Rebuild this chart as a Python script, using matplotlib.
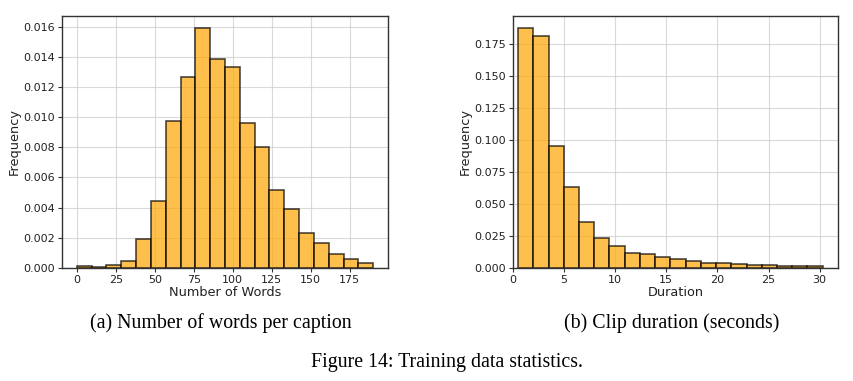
import matplotlib.pyplot as plt
import numpy as np

# histogram densities
word_edges = np.linspace(0, 190, 21)
word_freq = [0.00011, 0.00007, 0.00022, 0.00049, 0.00189, 0.00444, 0.00976,
             0.01269, 0.01591, 0.01387, 0.01331, 0.00960, 0.00800, 0.00516,
             0.00393, 0.00233, 0.00164, 0.00091, 0.00062, 0.00036]

dur_edges = np.linspace(0.5, 30.3, 21)
dur_freq = [0.1876, 0.1813, 0.0954, 0.0637, 0.0359, 0.0236, 0.0173, 0.0115,
            0.0113, 0.0089, 0.0073, 0.0055, 0.0042, 0.0039, 0.0031, 0.0026,
            0.0024, 0.0018, 0.0016, 0.0013]

fig = plt.figure(figsize=(8.54, 3.81), dpi=100)
ax1 = fig.add_axes([0.0726, 0.2966, 0.3817, 0.6614])
ax2 = fig.add_axes([0.6007, 0.2966, 0.3806, 0.6614])


def draw(ax, edges, freq, xlabel):
    ax.set_axisbelow(True)
    ax.grid(True, color='#d0d0d0', linewidth=0.8, alpha=0.8)
    ax.bar(edges[:-1], freq, width=np.diff(edges), align='edge',
           color='orange', edgecolor='black', alpha=0.7, linewidth=1.2)
    ax.set_xlabel(xlabel, fontsize=9.3, labelpad=1, color='#222222')
    ax.set_ylabel('Frequency', fontsize=9.3, labelpad=2, color='#222222')
    ax.tick_params(labelsize=8, length=3, pad=2, colors='#333333',
                   labelcolor='#222222')
    for s in ax.spines.values():
        s.set_color('#333333')
        s.set_linewidth(1.0)


draw(ax1, word_edges, word_freq, 'Number of Words')
ax1.set_xticks([0, 25, 50, 75, 100, 125, 150, 175])
ax1.set_yticks(np.arange(0, 0.0161, 0.002))
ax1.set_xlim(-9.5, 199.5)
ax1.set_ylim(0, 0.0167)

draw(ax2, dur_edges, dur_freq, 'Duration')
ax2.set_xticks([0, 5, 10, 15, 20, 25, 30])
ax2.set_yticks(np.arange(0, 0.176, 0.025))
ax2.set_xlim(0, 31.8)
ax2.set_ylim(0, 0.197)

serif = ['Liberation Serif', 'DejaVu Serif']
fig.text(0.258, 0.152, '(a) Number of words per caption', ha='center',
         va='center', fontsize=14.3, family=serif)
fig.text(0.787, 0.152, '(b) Clip duration (seconds)', ha='center',
         va='center', fontsize=14.3, family=serif)
fig.text(0.523, 0.048, 'Figure 14: Training data statistics.', ha='center',
         va='center', fontsize=14.3, family=serif)

fig.savefig('out.png', dpi=100)
